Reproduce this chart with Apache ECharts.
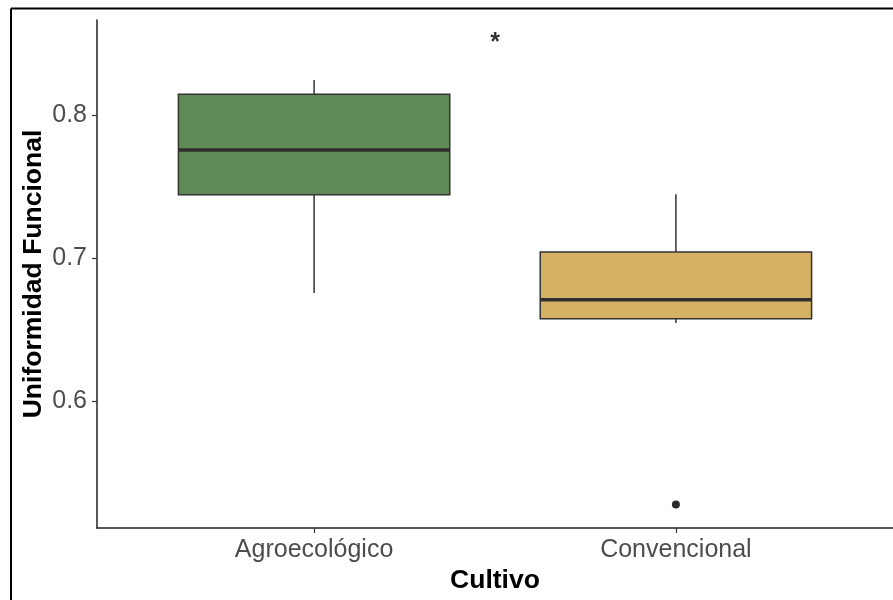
<!DOCTYPE html>
<html>
<head>
<meta charset="utf-8">
<script src="https://cdn.jsdelivr.net/npm/echarts@6/dist/echarts.min.js"></script>
<style>
  html, body { margin: 0; padding: 0; background: #ffffff; }
  #chart { width: 893px; height: 600px; }
</style>
</head>
<body>
<div id="chart"></div>
<script>
// ---- data ----
const categories = ['Agroecológico', 'Convencional'];
const catPositions = [1, 2];
const whiskerLow = [0.6756, 0.6547];
const q1 = [0.7442, 0.6577];
const median = [0.7756, 0.6709];
const q3 = [0.8146, 0.7042];
const whiskerHigh = [0.8244, 0.7447];
const outlierX = [2];
const outlierY = [0.5278];
const yTicks = [0.6, 0.7, 0.8];
const annotX = [1.5];
const annotY = [0.85];
const annotText = ['*'];

// ---- styles ----
const boxFills = ['#5f8a55', '#d6b164'];
const BOX_WIDTH = 0.75;
const FONT = '"Liberation Sans", Arial, sans-serif';

const boxData = catPositions.map((x, i) => [x, whiskerLow[i], q1[i], median[i], q3[i], whiskerHigh[i]]);
const outlierData = outlierX.map((x, i) => [x, outlierY[i]]);
const annotData = annotX.map((x, i) => ({
  value: [x, annotY[i]],
  label: { formatter: annotText[i] }
}));

function renderBox(params, api) {
  const x = api.value(0);
  const lo = api.coord([x, api.value(1)]);
  const b1 = api.coord([x, api.value(2)]);
  const md = api.coord([x, api.value(3)]);
  const b3 = api.coord([x, api.value(4)]);
  const hi = api.coord([x, api.value(5)]);
  const half = api.size([BOX_WIDTH, 0])[0] / 2;
  const lineStyle = { stroke: '#333333', lineWidth: 1.5 };
  return {
    type: 'group',
    children: [
      { type: 'line', shape: { x1: lo[0], y1: lo[1], x2: b1[0], y2: b1[1] }, style: lineStyle },
      { type: 'line', shape: { x1: b3[0], y1: b3[1], x2: hi[0], y2: hi[1] }, style: lineStyle },
      { type: 'rect', shape: { x: b3[0] - half, y: b3[1], width: 2 * half, height: b1[1] - b3[1] },
        style: { fill: boxFills[params.dataIndex], stroke: '#333333', lineWidth: 1.5 } },
      { type: 'line', shape: { x1: md[0] - half, y1: md[1], x2: md[0] + half, y2: md[1] },
        style: { stroke: '#2e2e2e', lineWidth: 3.5 } }
    ]
  };
}

const chart = echarts.init(document.getElementById('chart'), null, { renderer: 'canvas' });
chart.setOption({
  animation: false,
  backgroundColor: '#ffffff',
  textStyle: { fontFamily: FONT },
  grid: { left: 97, right: 0, top: 20, bottom: 72, containLabel: false },
  xAxis: {
    type: 'value',
    min: 0.4,
    max: 2.6,
    name: 'Cultivo',
    nameLocation: 'middle',
    nameGap: 39,
    nameMoveOverlap: false,
    nameTextStyle: { fontFamily: FONT, fontSize: 26.5, fontWeight: 'bold', color: '#000000' },
    axisLine: { show: true, onZero: false, lineStyle: { color: '#222222', width: 1.5 } },
    axisTick: { show: true, length: 5, customValues: catPositions, lineStyle: { color: '#333333', width: 1.2 } },
    axisLabel: {
      customValues: catPositions,
      margin: 10,
      fontFamily: FONT, fontSize: 25, color: '#4d4d4d',
      formatter: v => categories[catPositions.indexOf(Math.round(v))] || ''
    },
    splitLine: { show: false }
  },
  yAxis: {
    type: 'value',
    min: 0.5114,
    max: 0.8664,
    name: 'Uniformidad Funcional',
    nameLocation: 'middle',
    nameGap: 50,
    nameMoveOverlap: false,
    nameTextStyle: { fontFamily: FONT, fontSize: 26.5, fontWeight: 'bold', color: '#000000' },
    axisLine: { show: true, onZero: false, lineStyle: { color: '#222222', width: 1.5 } },
    axisTick: { show: true, length: 5, customValues: yTicks, lineStyle: { color: '#333333', width: 1.2 } },
    axisLabel: {
      customValues: yTicks,
      margin: 10,
      fontFamily: FONT, fontSize: 25, color: '#4d4d4d',
      formatter: v => Number(v).toFixed(1)
    },
    splitLine: { show: false }
  },
  series: [
    {
      type: 'custom',
      renderItem: renderBox,
      data: boxData,
      encode: { x: 0, y: [1, 2, 3, 4, 5] },
      z: 2
    },
    {
      type: 'scatter',
      data: outlierData,
      symbol: 'circle',
      symbolSize: 8,
      itemStyle: { color: '#2a2a2a', opacity: 1 },
      z: 3
    },
    {
      type: 'scatter',
      data: annotData,
      symbol: 'circle',
      symbolSize: 2,
      itemStyle: { color: 'rgba(0,0,0,0)' },
      label: {
        show: true,
        position: 'inside',
        fontFamily: FONT, fontSize: 25, fontWeight: 'bold', color: '#000000'
      },
      z: 4
    }
  ],
  graphic: [
    { type: 'line', shape: { x1: 11, y1: 8.5, x2: 893, y2: 8.5 }, style: { stroke: '#000000', lineWidth: 2 } },
    { type: 'line', shape: { x1: 11, y1: 8.5, x2: 11, y2: 600 }, style: { stroke: '#000000', lineWidth: 2 } }
  ]
});
</script>
</body>
</html>
